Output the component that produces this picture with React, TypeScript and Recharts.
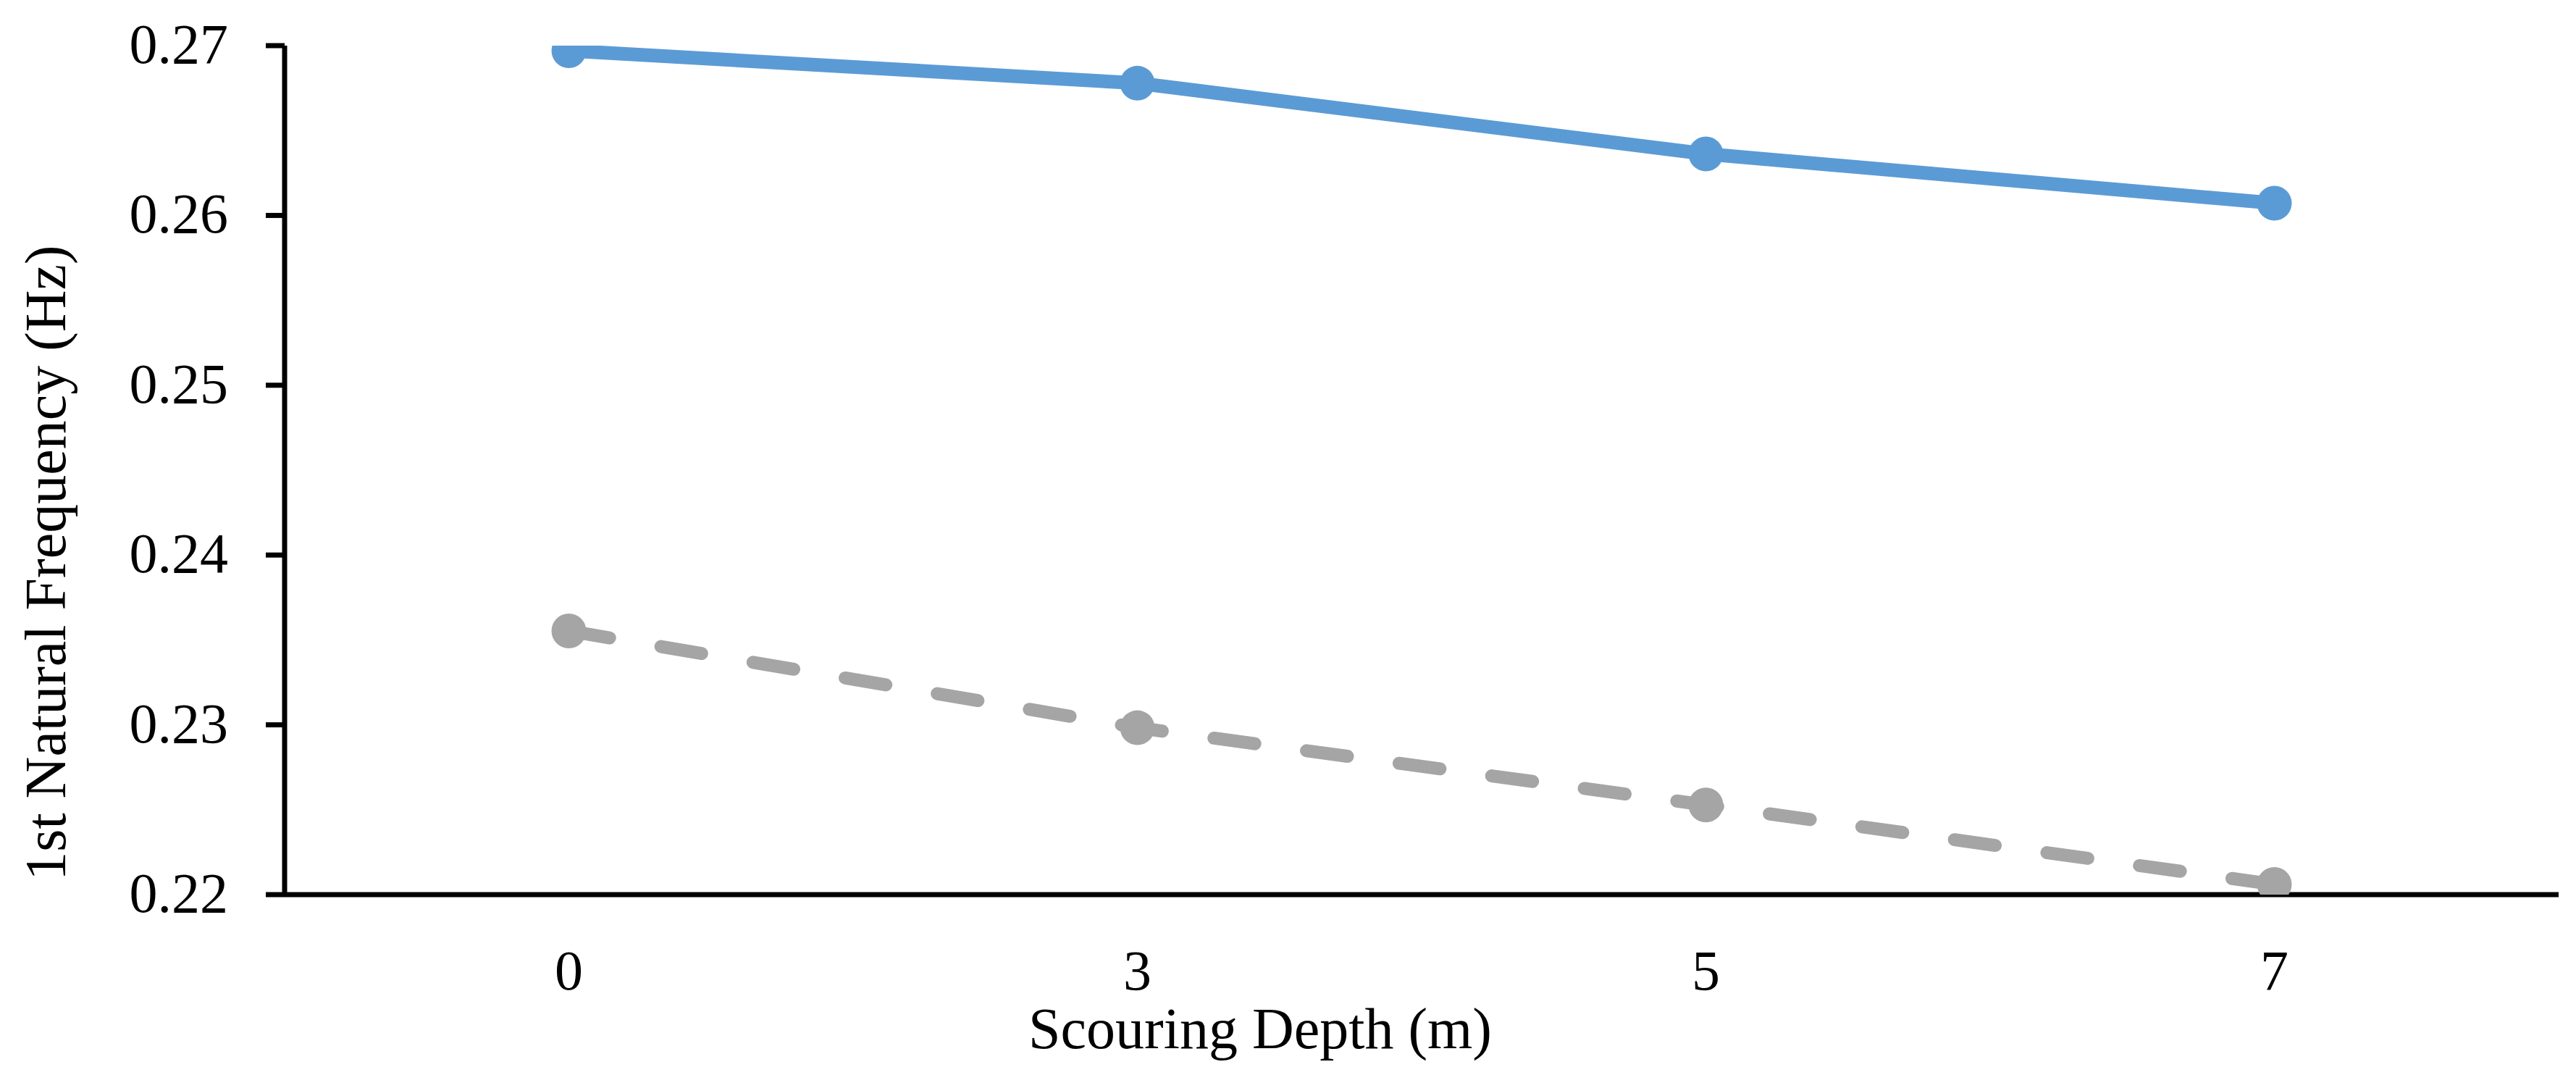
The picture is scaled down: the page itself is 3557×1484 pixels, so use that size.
import React from 'react';
import { ComposedChart, Line, XAxis, YAxis, Label } from 'recharts';

const depths = ['0', '3', '5', '7'];
const seriesA = [0.2697, 0.26779, 0.26362, 0.26072];
const seriesB = [0.23553, 0.22983, 0.22528, 0.2206];
const yTicks = [0.22, 0.23, 0.24, 0.25, 0.26, 0.27];

const data = depths.map((d, i) => ({ depth: d, a: seriesA[i], b: seriesB[i] }));

const FONT = '"Liberation Serif", "Times New Roman", serif';

const YTick = (props: any) => {
  const { x, y, payload } = props;
  return (
    <text x={x} y={y} dy={24} textAnchor="end" fontFamily={FONT} fontSize={78} fill="#000">
      {Number(payload.value).toFixed(2)}
    </text>
  );
};

const XTick = (props: any) => {
  const { x, y, payload } = props;
  return (
    <text x={x} y={y} dy={131} textAnchor="middle" fontFamily={FONT} fontSize={78} fill="#000">
      {payload.value}
    </text>
  );
};

const XTitle = (props: any) => {
  const vb = props.viewBox || {};
  return (
    <text x={vb.x + 1347} y={vb.y + 212} textAnchor="middle" fontFamily={FONT} fontSize={80} fill="#000">
      Scouring Depth (m)
    </text>
  );
};

const YTitle = (props: any) => {
  const vb = props.viewBox || {};
  const cx = 90;
  const cy = vb.y + 714;
  return (
    <text x={cx} y={cy} transform={`rotate(-90, ${cx}, ${cy})`} textAnchor="middle" fontFamily={FONT} fontSize={80} fill="#000">
      1st Natural Frequency (Hz)
    </text>
  );
};

export default function App() {
  return (
    <div style={{ position: 'absolute', left: 0, top: 0, background: '#fff' }}>
      <ComposedChart width={3557} height={1484} data={data} margin={{ top: 63, right: 24, left: 0, bottom: 0 }}>
        <XAxis
          dataKey="depth"
          type="category"
          scale="band"
          height={249}
          tickLine={false}
          tickSize={0}
          tickMargin={0}
          axisLine={{ stroke: '#000', strokeWidth: 7 }}
          tick={<XTick />}
        >
          <Label content={<XTitle />} />
        </XAxis>
        <YAxis
          type="number"
          domain={[0.22, 0.27]}
          ticks={yTicks}
          allowDataOverflow
          width={393}
          tickSize={26}
          tickMargin={52}
          tickLine={{ stroke: '#000', strokeWidth: 7 }}
          axisLine={{ stroke: '#000', strokeWidth: 7 }}
          tick={<YTick />}
        >
          <Label content={<YTitle />} />
        </YAxis>
        <Line
          dataKey="a"
          stroke="#5B9BD5"
          strokeWidth={19}
          strokeLinejoin="round"
          dot={{ r: 24, fill: '#5B9BD5', stroke: 'none', strokeWidth: 0 }}
          activeDot={false}
          isAnimationActive={false}
        />
        <Line
          dataKey="b"
          stroke="#A5A5A5"
          strokeWidth={18}
          strokeDasharray="57 72"
          strokeLinecap="round"
          dot={{ r: 24, fill: '#A5A5A5', stroke: 'none', strokeWidth: 0, strokeDasharray: '0' }}
          activeDot={false}
          isAnimationActive={false}
        />
      </ComposedChart>
    </div>
  );
}
